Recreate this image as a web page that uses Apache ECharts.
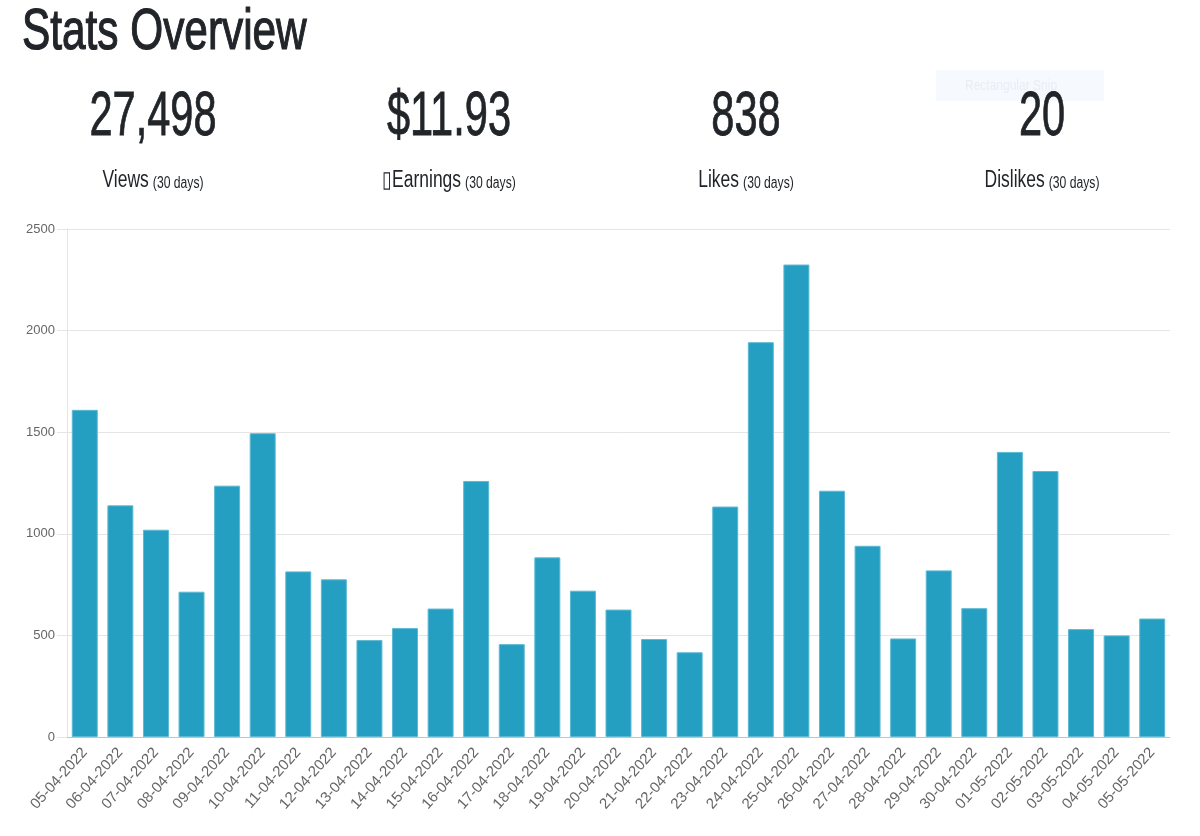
<!DOCTYPE html>
<html>
<head>
<meta charset="utf-8">
<script src="https://cdn.jsdelivr.net/npm/echarts@6/dist/echarts.min.js"></script>
<style>
html,body{margin:0;padding:0;background:#fff;}
#c{width:1200px;height:836px;}
</style>
</head>
<body>
<div id="c"></div>
<script>
const titleText = 'Stats Overview';
const statValues = ['27,498', '$11.93', '838', '20'];
const statLabels = ['Views', '\u25AFEarnings', 'Likes', 'Dislikes'];
const statPeriod = '(30 days)';
const categories = ['05-04-2022','06-04-2022','07-04-2022','08-04-2022','09-04-2022','10-04-2022','11-04-2022','12-04-2022','13-04-2022','14-04-2022','15-04-2022','16-04-2022','17-04-2022','18-04-2022','19-04-2022','20-04-2022','21-04-2022','22-04-2022','23-04-2022','24-04-2022','25-04-2022','26-04-2022','27-04-2022','28-04-2022','29-04-2022','30-04-2022','01-05-2022','02-05-2022','03-05-2022','04-05-2022','05-05-2022'];
const views = [1610,1140,1020,715,1237,1495,815,776,477,536,632,1260,457,884,720,627,482,417,1134,1943,2325,1212,941,485,820,634,1403,1309,531,500,583];
const yTicks = {min:0, max:2500, interval:500};

const chart = echarts.init(document.getElementById('c'), null, {renderer:'canvas'});
const centers = [153, 449, 746, 1042];
const graphics = [];
graphics.push({type:'rect', shape:{x:936,y:70,width:168,height:31}, style:{fill:'#f6f9fe'}, z:0});
graphics.push({type:'text', x:965, y:86, style:{text:'Rectangular Snip', font:'15px "Liberation Sans"', fill:'#e8edf5', textVerticalAlign:'middle'}, scaleX:0.8, z:1});
graphics.push({type:'text', x:22, y:33, scaleX:0.73,
  style:{text:titleText, font:'58px "Liberation Sans"', fill:'#212529', stroke:'#212529', lineWidth:1.2, textAlign:'left', textVerticalAlign:'middle'}, z:5});
statValues.forEach((v,i)=>{
  graphics.push({type:'text', x:centers[i], y:118, scaleX:0.66,
    style:{text:v, font:'63px "Liberation Sans"', fill:'#212529', stroke:'#212529', lineWidth:0.8, textAlign:'center', textVerticalAlign:'middle'}, z:5});
  graphics.push({type:'text', x:centers[i], y:181, scaleX:0.76,
    style:{text:'{a|'+statLabels[i]+'} {b|'+statPeriod+'}', textAlign:'center', textVerticalAlign:'middle',
      rich:{a:{font:'23px "Liberation Sans"', fill:'#212529', verticalAlign:'bottom'},
            b:{font:'16px "Liberation Sans"', fill:'#212529', verticalAlign:'bottom', padding:[0,0,1,2]}}}, z:5});
});

chart.setOption({
  animation:false,
  backgroundColor:'#fff',
  graphic:graphics,
  grid:{left:67, right:30, top:229, bottom:99, containLabel:false},
  xAxis:{
    type:'category', data:categories,
    axisLine:{show:true, lineStyle:{color:'#c4c4c4', width:1}},
    axisTick:{show:false},
    axisLabel:{rotate:48, color:'#666', fontSize:15, fontFamily:'Liberation Sans', margin:13, interval:0},
    splitLine:{show:false}
  },
  yAxis:{
    type:'value', min:yTicks.min, max:yTicks.max, interval:yTicks.interval,
    axisLine:{show:true, lineStyle:{color:'#e5e5e5'}},
    axisTick:{show:true, length:10, lineStyle:{color:'#e5e5e5'}},
    axisLabel:{color:'#666', fontSize:13, fontFamily:'Liberation Sans', margin:12, formatter:(v)=>String(v)},
    splitLine:{show:true, lineStyle:{color:'#e5e5e5', width:1}}
  },
  series:[{
    type:'bar', data:views, barCategoryGap:'27%',
    itemStyle:{color:'#249fc1', borderColor:'#5cb9d4', borderWidth:1}
  }]
});
</script>
</body>
</html>
